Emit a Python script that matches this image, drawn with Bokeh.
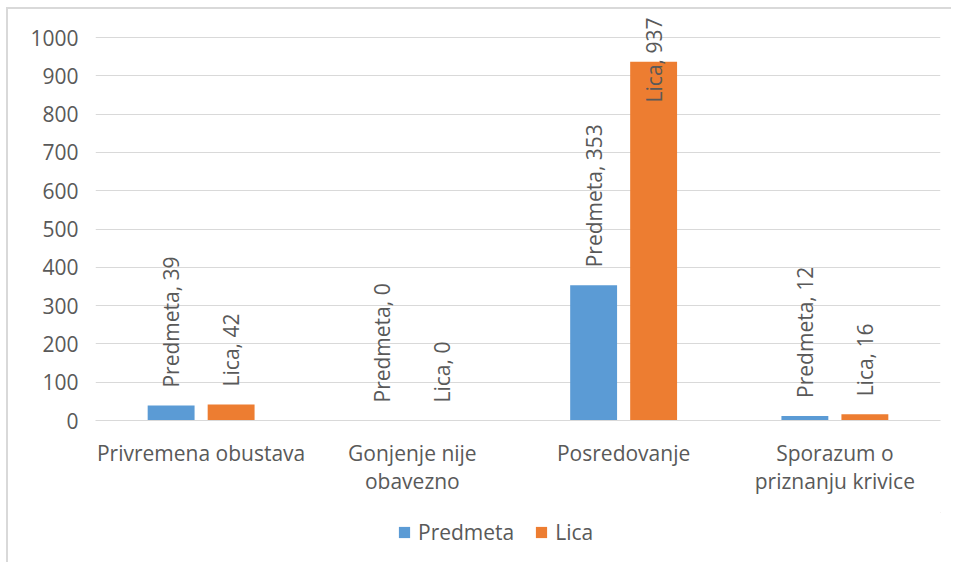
import math
from bokeh.plotting import figure
from bokeh.layouts import column
from bokeh.models import FactorRange, FixedTicker, Legend, LegendItem, ColumnDataSource, Range1d
from bokeh.transform import dodge
from bokeh.core.properties import value
from bokeh.embed import file_html
from bokeh.resources import INLINE

# ---- data ----
categories = ["Privremena obustava", "Gonjenje nije\nobavezno", "Posredovanje", "Sporazum o\npriznanju krivice"]
series_names = ["Predmeta", "Lica"]
predmeta = [39, 0, 353, 12]
lica = [42, 0, 937, 16]
y_ticks = [0, 100, 200, 300, 400, 500, 600, 700, 800, 900, 1000]

# ---- style ----
FONT = "Open Sans"
FS = "21px"
TXT = "#595959"
GRID = "#d9d9d9"
COLORS = ["#5b9bd5", "#ed7d31"]
W, H = 945, 505
MB_LEFT, MB_RIGHT, MB_TOP, MB_BOTTOM = 87, 13, 4, 94
FRAME_H = H - MB_TOP - MB_BOTTOM
Y_END = 1062.7
PX_PER_UNIT = FRAME_H / Y_END
OFFSETS = [-0.142, 0.142]
BAR_W = 0.222
LEG_H = 50

p = figure(x_range=FactorRange(*categories), y_range=Range1d(0, Y_END),
           width=W, height=H, output_backend="svg", toolbar_location=None,
           min_border_left=MB_LEFT, min_border_right=MB_RIGHT,
           min_border_top=MB_TOP, min_border_bottom=MB_BOTTOM)
p.styles = {"border-left": "2px solid #d9d9d9", "border-top": "2px solid #d9d9d9",
            "margin-left": "6px", "margin-top": "7px"}
p.outline_line_color = None
p.background_fill_color = "white"
p.border_fill_color = "white"

p.xgrid.grid_line_color = None
p.ygrid.grid_line_color = GRID
p.ygrid.grid_line_width = 1
p.yaxis.ticker = FixedTicker(ticks=y_ticks)
p.ygrid.ticker = FixedTicker(ticks=y_ticks)

p.yaxis.axis_line_color = None
p.yaxis.major_tick_line_color = None
p.yaxis.minor_tick_line_color = None
p.yaxis.major_tick_out = 0
p.yaxis.major_label_standoff = 17
p.yaxis.major_label_text_font = FONT
p.yaxis.major_label_text_font_size = FS
p.yaxis.major_label_text_color = TXT

p.xaxis.axis_line_color = GRID
p.xaxis.major_tick_line_color = None
p.xaxis.minor_tick_line_color = None
p.xaxis.major_label_standoff = 12
p.xaxis.major_label_text_font = FONT
p.xaxis.major_label_text_font_size = FS
p.xaxis.major_label_text_color = TXT
p.xaxis.major_label_text_line_height = 1.0

for name, vals, color, off in zip(series_names, [predmeta, lica], COLORS, OFFSETS):
    labels, ys, aligns, yoffs = [], [], [], []
    for v in vals:
        txt = f"{name}, {v}"
        est_len = len(txt) * 10.8
        room = (Y_END - v) * PX_PER_UNIT
        if 18 + est_len > room - 4:
            ys.append(Y_END); aligns.append("right"); yoffs.append(4)
        else:
            ys.append(v); aligns.append("left"); yoffs.append(-18)
        labels.append(txt)
    src = ColumnDataSource(dict(cat=categories, val=vals, lab=labels, ly=ys, al=aligns, yo=yoffs))
    p.vbar(x=dodge("cat", off, range=p.x_range), top="val", width=BAR_W, source=src,
           fill_color=color, line_color=None)
    p.text(x=dodge("cat", off, range=p.x_range), y="ly", text="lab", source=src,
           angle=math.pi / 2, text_align="al", text_baseline="middle", y_offset="yo",
           text_font=value(FONT), text_font_size=FS, text_color=TXT)

# ---- legend strip below the chart ----
lf = figure(width=W, height=LEG_H, output_backend="svg", toolbar_location=None,
            min_border=0, x_range=Range1d(0, 1), y_range=Range1d(0, 1),
            x_axis_location=None, y_axis_location=None)
lf.styles = {"border-left": "2px solid #d9d9d9", "margin-left": "6px"}
lf.grid.visible = False
lf.outline_line_color = None
lf.background_fill_color = "white"
lf.border_fill_color = "white"
items = []
for name, color in zip(series_names, COLORS):
    # legend proxy glyph, placed outside the visible range
    r = lf.vbar(x=[5], top=[5], bottom=[4], width=0.1, fill_color=color, line_color=None)
    items.append(LegendItem(label=name, renderers=[r]))
legend = Legend(items=items, orientation="horizontal", location=(302, 16),
                glyph_width=14, glyph_height=14, label_standoff=7, spacing=20,
                padding=0, margin=0, border_line_color=None, background_fill_alpha=0,
                label_text_font=FONT, label_text_font_size=FS, label_text_color=TXT,
                label_height=20)
lf.add_layout(legend, "center")

layout = column(p, lf, spacing=0)
open("out.html", "w").write(file_html(layout, INLINE))
